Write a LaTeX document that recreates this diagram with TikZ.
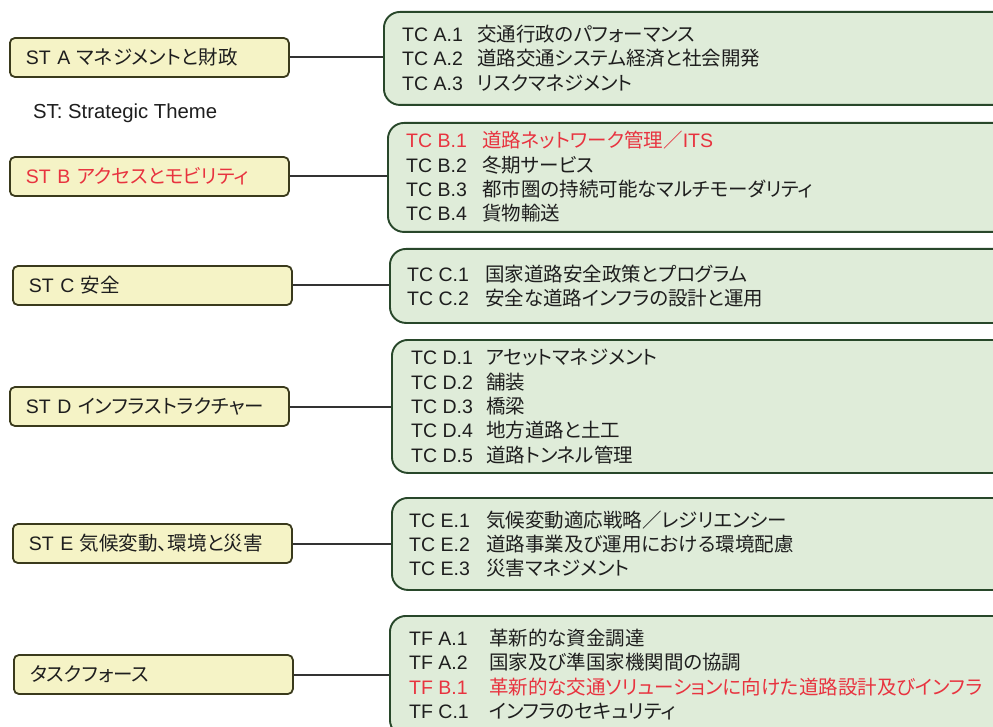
\documentclass[tikz,border=0pt]{standalone}
\usepackage{fontspec}
\setmainfont{Liberation Sans}
\newfontfamily\jpfont[RawFeature=+palt]{Noto Sans CJK JP}
\newcommand\J[1]{{\jpfont #1}}
\newcommand\Cd[2]{\makebox[#1pt][l]{#2}}
\definecolor{yfill}{HTML}{F5F3C6}
\definecolor{ydraw}{HTML}{3A3A1C}
\definecolor{gfill}{HTML}{DFECD9}
\definecolor{gdraw}{HTML}{28472A}
\definecolor{redtxt}{HTML}{E8333F}
\definecolor{txt}{HTML}{1E1E1E}
\definecolor{conn}{HTML}{333333}
\begin{document}
\begin{tikzpicture}[x=1pt,y=-1pt,
  lbox/.style={draw=ydraw, fill=yfill, line width=1.8pt, rounded corners=5pt,
    minimum height=39pt, text width=247pt, inner xsep=16pt, inner ysep=0pt,
    align=left, anchor=west, text=txt, font=\fontsize{19.5}{24}\selectfont},
  rbox/.style={draw=gdraw, fill=gfill, line width=1.9pt, rounded corners=16pt,
    anchor=north west, inner sep=0pt},
  rtext/.style={anchor=west, align=left, inner sep=0pt, text=txt,
    font=\fontsize{19.5}{24.3}\selectfont},
  link/.style={draw=conn, line width=2pt}]
\useasboundingbox (0,0) rectangle (993,727);
\fill[white] (0,0) rectangle (993,727);
\clip (0,0) rectangle (993,727);

% left boxes
\node[lbox] (la) at (9,57.5) {ST A \J{マネジメントと財政}};
\node[lbox, text=redtxt] (lb) at (9,176.5) {ST B \J{アクセスとモビリティ}};
\node[lbox] (lc) at (12,285.5) {ST C \J{安全}};
\node[lbox] (ld) at (9,406.5) {ST D \J{インフラストラクチャー}};
\node[lbox] (le) at (12,543.5) {ST E \J{気候変動、環境と災害}};
\node[lbox] (lf) at (13,674.5) {\J{タスクフォース}};

\node[anchor=west, inner sep=0pt, text=txt, font=\fontsize{20.3}{24}\selectfont] (note) at (33,113) {ST: Strategic Theme};

% right boxes
\node[rbox, minimum width=625pt, minimum height=93pt] (ra) at (383,11) {};
\node[rbox, minimum width=621pt, minimum height=109pt] (rb) at (387,122) {};
\node[rbox, minimum width=619pt, minimum height=74pt] (rc) at (389,248) {};
\node[rbox, minimum width=617pt, minimum height=133pt] (rd) at (391,339) {};
\node[rbox, minimum width=617pt, minimum height=92pt] (re) at (391,497) {};
\node[rbox, minimum width=619pt, minimum height=120pt] (rf) at (389,615) {};

% connectors
\draw[link] (la.east) -- (la.east -| ra.west);
\draw[link] (lb.east) -- (lb.east -| rb.west);
\draw[link] (lc.east) -- (lc.east -| rc.west);
\draw[link] (ld.east) -- (ld.east -| rd.west);
\draw[link] (le.east) -- (le.east -| re.west);
\draw[link] (lf.east) -- (lf.east -| rf.west);

% right texts
\node[rtext] (ta) at (402,58) {%
\Cd{75}{TC A.1}\J{交通行政のパフォーマンス}\\
\Cd{75}{TC A.2}\J{道路交通システム経済と社会開発}\\
\Cd{75}{TC A.3}\J{リスクマネジメント}};
\node[rtext] (tb) at (406,177) {%
{\color{redtxt}\Cd{76}{TC B.1}\J{道路ネットワーク管理／}ITS}\\
\Cd{76}{TC B.2}\J{冬期サービス}\\
\Cd{76}{TC B.3}\J{都市圏の持続可能なマルチモーダリティ}\\
\Cd{76}{TC B.4}\J{貨物輸送}};
\node[rtext] (tc) at (407,286) {%
\Cd{78}{TC C.1}\J{国家道路安全政策とプログラム}\\
\Cd{78}{TC C.2}\J{安全な道路インフラの設計と運用}};
\node[rtext] (td) at (411,406.5) {%
\Cd{75}{TC D.1}\J{アセットマネジメント}\\
\Cd{75}{TC D.2}\J{舗装}\\
\Cd{75}{TC D.3}\J{橋梁}\\
\Cd{75}{TC D.4}\J{地方道路と土工}\\
\Cd{75}{TC D.5}\J{道路トンネル管理}};
\node[rtext] (te) at (409,544) {%
\Cd{77}{TC E.1}\J{気候変動適応戦略／レジリエンシー}\\
\Cd{77}{TC E.2}\J{道路事業及び運用における環境配慮}\\
\Cd{77}{TC E.3}\J{災害マネジメント}};
\node[rtext] (tf) at (409,674.5) {%
\Cd{80}{TF A.1}\J{革新的な資金調達}\\
\Cd{80}{TF A.2}\J{国家及び準国家機関間の協調}\\
{\color{redtxt}\Cd{80}{TF B.1}\J{革新的な交通ソリューションに向けた道路設計及びインフラ}}\\
\Cd{80}{TF C.1}\J{インフラのセキュリティ}};
\end{tikzpicture}
\end{document}
